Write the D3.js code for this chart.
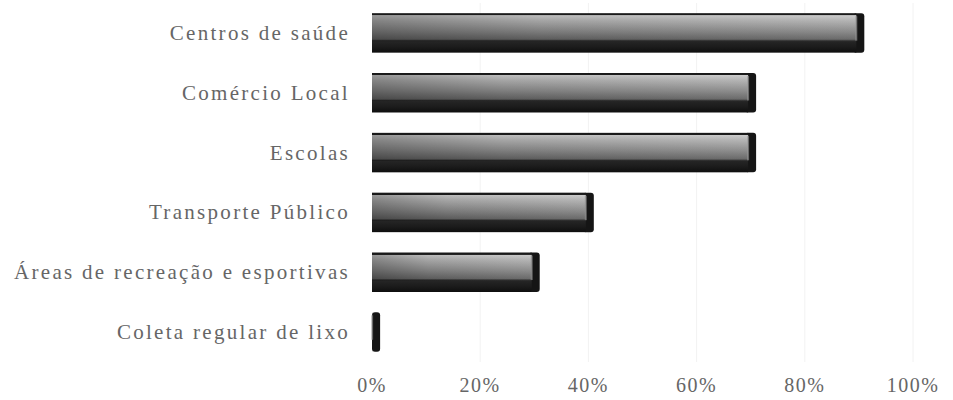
<!DOCTYPE html>
<html><head><meta charset="utf-8">
<script src="https://cdn.jsdelivr.net/npm/d3@7"></script>
<style>
body{margin:0;background:#fff;}
text{font-family:"Liberation Serif","Times New Roman",serif;fill:#666;}
</style></head>
<body><svg id="c" width="953" height="400"></svg>
<script>
const categories = ["Centros de saúde","Comércio Local","Escolas","Transporte Público","Áreas de recreação e esportivas","Coleta regular de lixo"];
const values = [0.91, 0.71, 0.71, 0.41, 0.31, 0.015];
const tickValues = [0, 0.2, 0.4, 0.6, 0.8, 1.0];
const tickLabels = ["0%","20%","40%","60%","80%","100%"];

const svg = d3.select("#c");
const x = d3.scaleLinear().domain([0,1]).range([372, 913]);
const y = d3.scaleBand().domain(categories).range([3, 362]).paddingInner(0.34).paddingOuter(0.17);

const defs = svg.append("defs");
const gv = defs.append("linearGradient").attr("id","gv").attr("x1",0).attr("y1",0).attr("x2",0).attr("y2",1);
[["0%","#1a1a1a"],["5%","#1a1a1a"],["6%","#c8c8c8"],["18%","#b0b0b0"],["45%","#868686"],["66%","#626262"],["70%","#262626"],["85%","#1c1c1c"],["100%","#0e0e0e"]]
  .forEach(s => gv.append("stop").attr("offset",s[0]).attr("stop-color",s[1]));
const gh = defs.append("linearGradient").attr("id","gh").attr("x1",0).attr("y1",0).attr("x2",1).attr("y2",0);
gh.append("stop").attr("offset","0%").attr("stop-color","#000").attr("stop-opacity",0.25);
gh.append("stop").attr("offset","35%").attr("stop-color","#000").attr("stop-opacity",0.06);
gh.append("stop").attr("offset","100%").attr("stop-color","#fff").attr("stop-opacity",0.06);

// faint gridlines
svg.append("g").selectAll("line").data(tickValues.slice(1)).join("line")
  .attr("x1",d=>x(d)).attr("x2",d=>x(d)).attr("y1",3).attr("y2",362)
  .attr("stroke","#f2f2f2").attr("stroke-width",1);

const bars = svg.append("g").selectAll("g").data(categories).join("g");
const capW = 8;
bars.each(function(c,i){
  const g = d3.select(this);
  const y0 = y(c), h = y.bandwidth();
  const x0 = x(0), x1 = x(values[i]);
  const bw = Math.max(0, x1 - x0 - capW);
  g.append("rect").attr("x", Math.max(x0, x1 - capW - 3)).attr("y", y0).attr("width", Math.min(capW + 3, x1 - x0)).attr("height", h)
    .attr("rx", 3).attr("fill", "#151515");
  g.append("rect").attr("x", x0).attr("y", y0).attr("width", bw).attr("height", h).attr("fill","url(#gv)");
  g.append("rect").attr("x", x0).attr("y", y0 + 2).attr("width", bw).attr("height", h*0.66).attr("fill","url(#gh)");
  if (bw > 0) g.append("rect").attr("x", x1 - capW - 1).attr("y", y0 + 3).attr("width", 2).attr("height", h*0.62).attr("fill","#9a9a9a").attr("opacity",0.6);
});

// category labels
svg.append("g").selectAll("text").data(categories).join("text")
  .attr("x", 350).attr("y", d => y(d) + y.bandwidth()/2)
  .attr("text-anchor","end").attr("dominant-baseline","central")
  .attr("font-size", 21).attr("letter-spacing", 2.3)
  .text(d => d);

// x axis labels
svg.append("g").selectAll("text").data(tickValues).join("text")
  .attr("x", d => x(d)).attr("y", 385)
  .attr("text-anchor","middle").attr("dominant-baseline","central")
  .attr("font-size", 20).attr("letter-spacing", 1.5)
  .text((d,i) => tickLabels[i]);
</script></body></html>
